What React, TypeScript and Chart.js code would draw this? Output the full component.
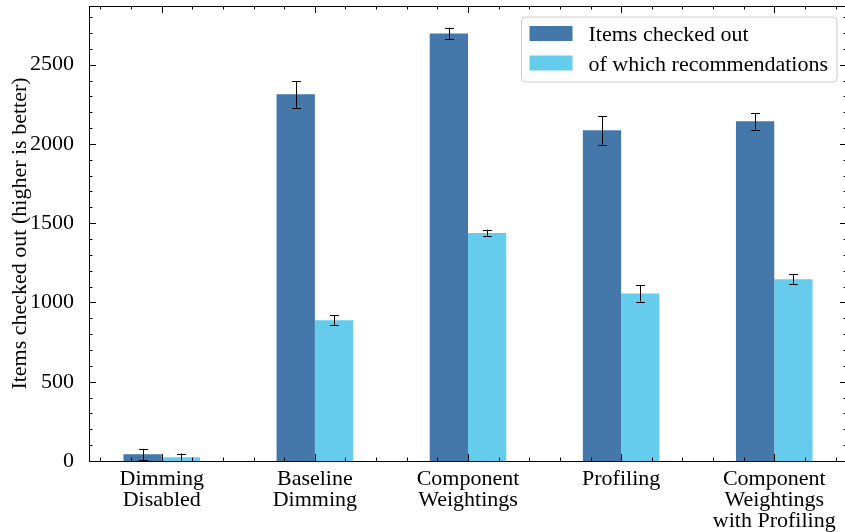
import React, { useEffect, useRef } from "react";
import { Chart, registerables } from "chart.js";

Chart.register(...registerables);

// ---------- data ----------
const categories: string[][] = [
  ["Dimming", "Disabled"],
  ["Baseline", "Dimming"],
  ["Component", "Weightings"],
  ["Profiling"],
  ["Component", "Weightings", "with Profiling"],
];
const seriesLabels = ["Items checked out", "of which recommendations"];
const checkedOut = [42, 2313, 2697, 2086, 2143];
const checkedOutErr = [35, 84, 36, 90, 52];
const recommendations = [23, 888, 1438, 1057, 1147];
const recommendationsErr = [24, 30, 21, 51, 32];
const yMajorTicks = [0, 500, 1000, 1500, 2000, 2500];
const yAxisTitle = "Items checked out (higher is better)";

// ---------- axis limits / styles ----------
const X_MIN = -0.475;
const X_MAX = 4.475;
const Y_MIN = 0;
const Y_MAX = 2870;
const Y_MINOR_STEP = 100;
const X_MINOR_PER_MAJOR = 5;
const FONT = '"Liberation Serif", "Times New Roman", serif';
const FONT_SIZE = 22;
const DARK = "#4477AA";
const LIGHT = "#66CCEE";

const errorBarPlugin = {
  id: "errorBars",
  afterDatasetsDraw(chart: any) {
    const ctx = chart.ctx;
    const yScale = chart.scales.y;
    ctx.save();
    ctx.strokeStyle = "#000";
    ctx.lineWidth = 1;
    chart.data.datasets.forEach((ds: any, di: number) => {
      const meta = chart.getDatasetMeta(di);
      meta.data.forEach((el: any, i: number) => {
        const v = ds.data[i].y;
        const e = ds.errors[i];
        const x = Math.round(el.x) + 0.5;
        const yT = yScale.getPixelForValue(v + e);
        const yB = yScale.getPixelForValue(v - e);
        ctx.beginPath();
        ctx.moveTo(x, yT);
        ctx.lineTo(x, yB);
        ctx.moveTo(x - 4.5, Math.round(yT) + 0.5);
        ctx.lineTo(x + 4.5, Math.round(yT) + 0.5);
        ctx.moveTo(x - 4.5, Math.round(yB) + 0.5);
        ctx.lineTo(x + 4.5, Math.round(yB) + 0.5);
        ctx.stroke();
      });
    });
    ctx.restore();
  },
};

const frameTicksPlugin = {
  id: "frameTicks",
  afterDraw(chart: any) {
    const ctx = chart.ctx;
    const { left, right, top, bottom } = chart.chartArea;
    const xs = chart.scales.x;
    const ys = chart.scales.y;
    ctx.save();
    ctx.strokeStyle = "#000";
    ctx.lineWidth = 1;
    const MAJ = 7;
    const MIN = 3.5;
    ctx.beginPath();
    const kStart = Math.ceil(X_MIN * X_MINOR_PER_MAJOR);
    const kEnd = Math.floor(X_MAX * X_MINOR_PER_MAJOR);
    for (let k = kStart; k <= kEnd; k++) {
      const v = k / X_MINOR_PER_MAJOR;
      const isMajor = k % X_MINOR_PER_MAJOR === 0;
      const len = isMajor ? MAJ : MIN;
      const px = Math.round(xs.getPixelForValue(v)) + 0.5;
      ctx.moveTo(px, bottom);
      ctx.lineTo(px, bottom - len);
      ctx.moveTo(px, top);
      ctx.lineTo(px, top + len);
    }
    for (let v = Y_MIN; v <= Y_MAX; v += Y_MINOR_STEP) {
      const isMajor = yMajorTicks.includes(v);
      const len = isMajor ? MAJ : MIN;
      const py = Math.round(ys.getPixelForValue(v)) + 0.5;
      ctx.moveTo(left, py);
      ctx.lineTo(left + len, py);
      ctx.moveTo(right, py);
      ctx.lineTo(right - len, py);
    }
    ctx.stroke();
    ctx.strokeRect(Math.round(left) + 0.5, Math.round(top) + 0.5, Math.round(right - left), Math.round(bottom - top));
    ctx.restore();
  },
};

const legendPlugin = {
  id: "boxLegend",
  afterDraw(chart: any) {
    const ctx = chart.ctx;
    const { right, top } = chart.chartArea;
    ctx.save();
    ctx.font = `${FONT_SIZE}px ${FONT}`;
    const datasets = chart.data.datasets;
    const maxW = Math.max(...datasets.map((d: any) => ctx.measureText(d.label).width));
    const padL = 8;
    const swW = 43;
    const gap = 16;
    const padR = 9;
    const w = padL + swW + gap + maxW + padR;
    const h = 65;
    const bx = right - 10 - w;
    const by = top + 11;
    const r = 4;
    ctx.beginPath();
    ctx.moveTo(bx + r, by);
    ctx.lineTo(bx + w - r, by);
    ctx.quadraticCurveTo(bx + w, by, bx + w, by + r);
    ctx.lineTo(bx + w, by + h - r);
    ctx.quadraticCurveTo(bx + w, by + h, bx + w - r, by + h);
    ctx.lineTo(bx + r, by + h);
    ctx.quadraticCurveTo(bx, by + h, bx, by + h - r);
    ctx.lineTo(bx, by + r);
    ctx.quadraticCurveTo(bx, by, bx + r, by);
    ctx.closePath();
    ctx.fillStyle = "rgba(255,255,255,0.8)";
    ctx.fill();
    ctx.strokeStyle = "#cccccc";
    ctx.lineWidth = 1;
    ctx.stroke();
    datasets.forEach((d: any, i: number) => {
      const sy = by + 9 + i * 29.5;
      ctx.fillStyle = d.backgroundColor;
      ctx.fillRect(bx + padL, sy, swW, 15);
      ctx.fillStyle = "#000";
      ctx.textBaseline = "alphabetic";
      ctx.textAlign = "left";
      ctx.fillText(d.label, bx + padL + swW + gap, sy + 15);
    });
    ctx.restore();
  },
};

export default function App() {
  const ref = useRef<HTMLCanvasElement | null>(null);
  useEffect(() => {
    if (!ref.current) return;
    const chart = new Chart(ref.current, {
      type: "bar",
      data: {
        datasets: [
          {
            label: seriesLabels[0],
            data: checkedOut.map((v, i) => ({ x: i, y: v })),
            errors: checkedOutErr,
            backgroundColor: DARK,
            borderWidth: 0,
            categoryPercentage: 0.5,
            barPercentage: 1.0,
          } as any,
          {
            label: seriesLabels[1],
            data: recommendations.map((v, i) => ({ x: i, y: v })),
            errors: recommendationsErr,
            backgroundColor: LIGHT,
            borderWidth: 0,
            categoryPercentage: 0.5,
            barPercentage: 1.0,
          } as any,
        ],
      },
      options: {
        animation: false,
        responsive: false,
        devicePixelRatio: 1,
        layout: { padding: { top: 6, right: 3, bottom: 0, left: 0 } },
        plugins: { legend: { display: false }, tooltip: { enabled: false } },
        scales: {
          x: {
            type: "linear",
            min: X_MIN,
            max: X_MAX,
            offset: false,
            grid: { display: false },
            border: { display: false },
            afterBuildTicks: (s: any) => {
              s.ticks = categories.map((_, i) => ({ value: i }));
            },
            afterFit: (s: any) => {
              s.height = 71;
              s.paddingLeft = 0;
              s.paddingRight = 0;
            },
            ticks: {
              autoSkip: false,
              maxRotation: 0,
              minRotation: 0,
              padding: 0,
              color: "#000",
              font: { family: FONT, size: FONT_SIZE, lineHeight: 21 / 22 },
              callback: (v: any) => categories[Math.round(Number(v))] || "",
            },
          },
          y: {
            type: "linear",
            min: Y_MIN,
            max: Y_MAX,
            grid: { display: false },
            border: { display: false },
            afterBuildTicks: (s: any) => {
              s.ticks = yMajorTicks.map((v) => ({ value: v }));
            },
            afterFit: (s: any) => {
              s.width = 89;
              s.paddingTop = 0;
              s.paddingBottom = 0;
            },
            ticks: {
              padding: 7,
              color: "#000",
              font: { family: FONT, size: FONT_SIZE },
              callback: (v: any) => String(v),
            },
            title: {
              display: true,
              text: yAxisTitle,
              color: "#000",
              font: { family: FONT, size: FONT_SIZE, lineHeight: 1 },
              padding: { top: 9, bottom: 0 },
            },
          },
        },
      },
      plugins: [errorBarPlugin, frameTicksPlugin, legendPlugin],
    });
    return () => chart.destroy();
  }, []);
  return (
    <div
      style={{
        position: "absolute",
        left: 0,
        top: 0,
        width: 845,
        height: 532,
        overflow: "hidden",
        background: "#fff",
      }}
    >
      <canvas ref={ref} width={850} height={532} style={{ display: "block" }} />
    </div>
  );
}
